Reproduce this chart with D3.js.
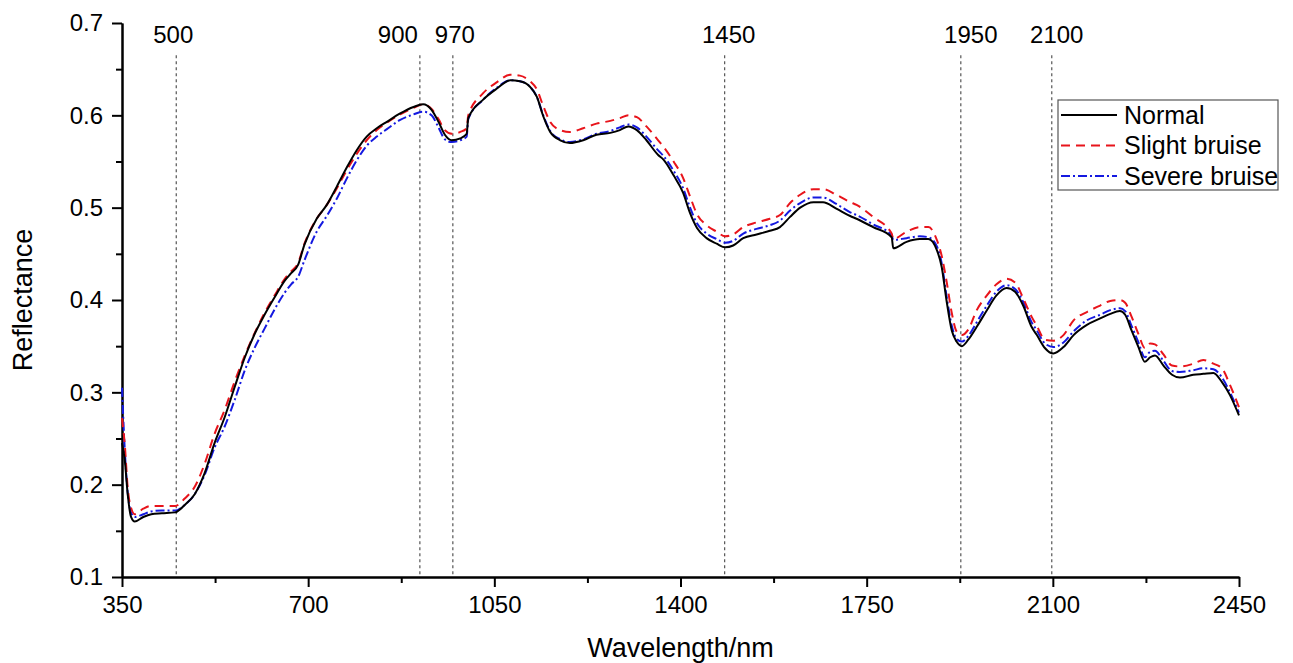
<!DOCTYPE html>
<html>
<head>
<meta charset="utf-8">
<script src="https://cdn.jsdelivr.net/npm/d3@7"></script>
<style>
  body { margin: 0; background: #fff; }
  text { font-family: "Liberation Sans", Arial, sans-serif; fill: #000; }
</style>
</head>
<body>
<svg id="chart" width="1293" height="663"></svg>
<script>
// Spectral data (reflectance vs wavelength)
var wavelength = [350, 355, 361, 367, 374, 390, 405, 425, 450, 468, 487, 505, 524, 543, 562, 581, 600, 618, 637, 656,
  668, 681, 693, 716, 735, 754, 773, 791, 810, 829, 848, 873, 898, 916, 932, 945, 957, 970, 986, 998,
  1001, 1029, 1055, 1080, 1098, 1117, 1130, 1142, 1155, 1174, 1192, 1217, 1242, 1268, 1286, 1302, 1318, 1336, 1358, 1368,
  1387, 1405, 1418, 1431, 1449, 1468, 1484, 1499, 1518, 1543, 1568, 1587, 1606, 1625, 1650, 1668, 1693, 1719, 1731, 1762,
  1797, 1800, 1825, 1850, 1866, 1882, 1891, 1900, 1910, 1919, 1929, 1941, 1957, 1976, 1994, 2013, 2029, 2045, 2060, 2070,
  2085, 2101, 2120, 2139, 2164, 2189, 2208, 2226, 2236, 2248, 2261, 2273, 2283, 2292, 2308, 2324, 2339, 2364, 2383, 2402,
  2418, 2433, 2450];

var normal = [0.245, 0.228, 0.188, 0.165, 0.160, 0.165, 0.168, 0.169, 0.170, 0.178, 0.190, 0.212, 0.245, 0.273, 0.306, 0.338, 0.364, 0.384, 0.403, 0.421,
  0.429, 0.438, 0.460, 0.488, 0.503, 0.523, 0.544, 0.562, 0.577, 0.586, 0.593, 0.602, 0.609, 0.612, 0.606, 0.593, 0.579, 0.573, 0.575, 0.580,
  0.597, 0.617, 0.629, 0.638, 0.637, 0.631, 0.620, 0.599, 0.582, 0.573, 0.570, 0.573, 0.579, 0.581, 0.584, 0.588, 0.584, 0.573, 0.557, 0.552,
  0.535, 0.516, 0.494, 0.478, 0.467, 0.461, 0.457, 0.459, 0.467, 0.471, 0.475, 0.479, 0.490, 0.500, 0.506, 0.506, 0.499, 0.491, 0.488, 0.479,
  0.468, 0.456, 0.463, 0.466, 0.466, 0.454, 0.436, 0.400, 0.367, 0.355, 0.350, 0.357, 0.371, 0.389, 0.405, 0.413, 0.409, 0.393, 0.371, 0.362,
  0.348, 0.342, 0.349, 0.362, 0.373, 0.380, 0.385, 0.388, 0.384, 0.367, 0.349, 0.333, 0.338, 0.340, 0.329, 0.319, 0.316, 0.319, 0.320, 0.321,
  0.311, 0.297, 0.275];

var slight = [0.272, 0.245, 0.195, 0.175, 0.168, 0.174, 0.177, 0.177, 0.177, 0.185, 0.198, 0.222, 0.255, 0.281, 0.312, 0.340, 0.365, 0.386, 0.405, 0.423,
  0.431, 0.440, 0.461, 0.488, 0.503, 0.521, 0.541, 0.558, 0.573, 0.584, 0.592, 0.601, 0.608, 0.612, 0.607, 0.596, 0.584, 0.580, 0.582, 0.586,
  0.600, 0.624, 0.636, 0.644, 0.643, 0.637, 0.628, 0.610, 0.593, 0.584, 0.582, 0.586, 0.591, 0.594, 0.597, 0.600, 0.598, 0.588, 0.573, 0.566,
  0.550, 0.532, 0.512, 0.493, 0.481, 0.474, 0.469, 0.471, 0.479, 0.484, 0.488, 0.492, 0.505, 0.514, 0.520, 0.520, 0.514, 0.506, 0.503, 0.490,
  0.472, 0.466, 0.474, 0.479, 0.479, 0.465, 0.448, 0.421, 0.386, 0.366, 0.362, 0.368, 0.389, 0.405, 0.417, 0.423, 0.419, 0.401, 0.382, 0.372,
  0.357, 0.356, 0.362, 0.378, 0.387, 0.394, 0.399, 0.400, 0.397, 0.382, 0.363, 0.348, 0.353, 0.352, 0.341, 0.329, 0.328, 0.331, 0.335, 0.331,
  0.326, 0.308, 0.284];

var severe = [0.305, 0.240, 0.190, 0.170, 0.165, 0.168, 0.171, 0.172, 0.172, 0.178, 0.190, 0.210, 0.240, 0.263, 0.292, 0.324, 0.349, 0.369, 0.390, 0.408,
  0.417, 0.425, 0.443, 0.474, 0.491, 0.510, 0.532, 0.551, 0.567, 0.577, 0.585, 0.595, 0.601, 0.604, 0.600, 0.587, 0.574, 0.571, 0.573, 0.577,
  0.596, 0.617, 0.630, 0.638, 0.637, 0.631, 0.620, 0.600, 0.583, 0.574, 0.571, 0.574, 0.580, 0.583, 0.587, 0.590, 0.587, 0.577, 0.562, 0.556,
  0.540, 0.521, 0.500, 0.483, 0.472, 0.466, 0.462, 0.464, 0.472, 0.477, 0.481, 0.486, 0.497, 0.505, 0.511, 0.511, 0.504, 0.495, 0.492, 0.482,
  0.470, 0.465, 0.467, 0.469, 0.468, 0.458, 0.440, 0.405, 0.372, 0.358, 0.355, 0.361, 0.376, 0.394, 0.409, 0.416, 0.412, 0.397, 0.376, 0.367,
  0.353, 0.349, 0.354, 0.366, 0.378, 0.384, 0.389, 0.391, 0.388, 0.372, 0.354, 0.338, 0.344, 0.345, 0.334, 0.323, 0.322, 0.324, 0.326, 0.325,
  0.316, 0.300, 0.278];

var seriesNames = ["Normal", "Slight bruise", "Severe bruise"];

// dotted reference lines: where they sit on the axis, and their labels
var markerPos = [452, 910, 972, 1483, 1927, 2098];
var markerLabels = ["500", "900", "970", "1450", "1950", "2100"];
var markerLabelShift = [-3, -22, 2, 4, 10, 5];

var xTicks = [350, 700, 1050, 1400, 1750, 2100, 2450];
var xMinorTicks = [525, 875, 1225, 1575, 1925, 2275];
var yTicks = [0.1, 0.2, 0.3, 0.4, 0.5, 0.6, 0.7];
var yMinorTicks = [0.15, 0.25, 0.35, 0.45, 0.55, 0.65];

var FONT = '"Liberation Sans", Arial, sans-serif';

var svg = d3.select("#chart");

var x = d3.scaleLinear().domain([350, 2450]).range([122, 1239]);
var y = d3.scaleLinear().domain([0.1, 0.7]).range([577, 23]);

// reference lines
var markers = svg.append("g").attr("class", "markers");
markers.selectAll("line")
    .data(markerPos)
    .enter()
  .append("line")
    .attr("x1", function(d) { return x(d); })
    .attr("x2", function(d) { return x(d); })
    .attr("y1", y(0.665))
    .attr("y2", y(0.103))
    .attr("stroke", "#555")
    .attr("stroke-width", 1.2)
    .attr("stroke-dasharray", "3,3");

markers.selectAll("text")
    .data(markerPos)
    .enter()
  .append("text")
    .attr("x", function(d, i) { return x(d) + markerLabelShift[i]; })
    .attr("y", 43)
    .attr("text-anchor", "middle")
    .style("font-size", "24px")
    .text(function(d, i) { return markerLabels[i]; });

// axes
function styleAxis(g) {
  g.attr("font-family", FONT).attr("font-size", 24);
  g.select(".domain").attr("stroke", "#000").attr("stroke-width", 2);
  g.selectAll(".tick line").attr("stroke", "#000").attr("stroke-width", 2);
  g.selectAll(".tick text").attr("fill", "#000");
}

svg.append("g")
    .attr("transform", "translate(0," + y(0.1) + ")")
    .call(d3.axisBottom(x).tickValues(xMinorTicks).tickSize(6).tickSizeOuter(0).tickFormat(""))
    .call(styleAxis);

svg.append("g")
    .attr("transform", "translate(0," + y(0.1) + ")")
    .call(d3.axisBottom(x).tickValues(xTicks).tickSize(10).tickSizeOuter(0).tickPadding(9).tickFormat(d3.format("d")))
    .call(styleAxis);

svg.append("g")
    .attr("transform", "translate(" + x(350) + ",0)")
    .call(d3.axisLeft(y).tickValues(yMinorTicks).tickSize(6).tickSizeOuter(0).tickFormat(""))
    .call(styleAxis);

svg.append("g")
    .attr("transform", "translate(" + x(350) + ",0)")
    .call(d3.axisLeft(y).tickValues(yTicks).tickSize(10).tickSizeOuter(0).tickPadding(9).tickFormat(d3.format(".1f")))
    .call(styleAxis);

// axis titles
svg.append("text")
    .attr("x", (x(350) + x(2450)) / 2)
    .attr("y", 657)
    .attr("text-anchor", "middle")
    .style("font-size", "27px")
    .text("Wavelength/nm");

svg.append("text")
    .attr("transform", "translate(32," + (y(0.1) + y(0.7)) / 2 + ") rotate(-90)")
    .attr("text-anchor", "middle")
    .style("font-size", "27px")
    .text("Reflectance");

// spectra
var series = [
  { name: seriesNames[0], values: normal, color: "#000000", dash: null },
  { name: seriesNames[1], values: slight, color: "#e8141b", dash: "9,6" },
  { name: seriesNames[2], values: severe, color: "#1419e0", dash: "9,3,2,3" }
];

var line = d3.line()
    .x(function(d, i) { return x(wavelength[i]); })
    .y(function(d) { return y(d); })
    .curve(d3.curveMonotoneX);

// draw severe first, then slight, normal on top
svg.append("g").selectAll("path")
    .data(series.slice().reverse())
    .enter()
  .append("path")
    .attr("d", function(s) { return line(s.values); })
    .attr("fill", "none")
    .attr("stroke", function(s) { return s.color; })
    .attr("stroke-width", 2)
    .attr("stroke-dasharray", function(s) { return s.dash; });

// legend
var legend = svg.append("g").attr("transform", "translate(1058,100)");
legend.append("rect")
    .attr("width", 220)
    .attr("height", 90)
    .attr("fill", "#fff")
    .attr("stroke", "#555")
    .attr("stroke-width", 1.2);

var item = legend.selectAll("g.item")
    .data(series)
    .enter()
  .append("g")
    .attr("class", "item")
    .attr("transform", function(d, i) { return "translate(0," + (15 + i * 30.5) + ")"; });

item.append("line")
    .attr("x1", 3)
    .attr("x2", 59)
    .attr("stroke", function(s) { return s.color; })
    .attr("stroke-width", 2)
    .attr("stroke-dasharray", function(s) { return s.dash; });

item.append("text")
    .attr("x", 66)
    .attr("y", 8.5)
    .style("font-size", "25px")
    .text(function(s) { return s.name; });
</script>
</body>
</html>
